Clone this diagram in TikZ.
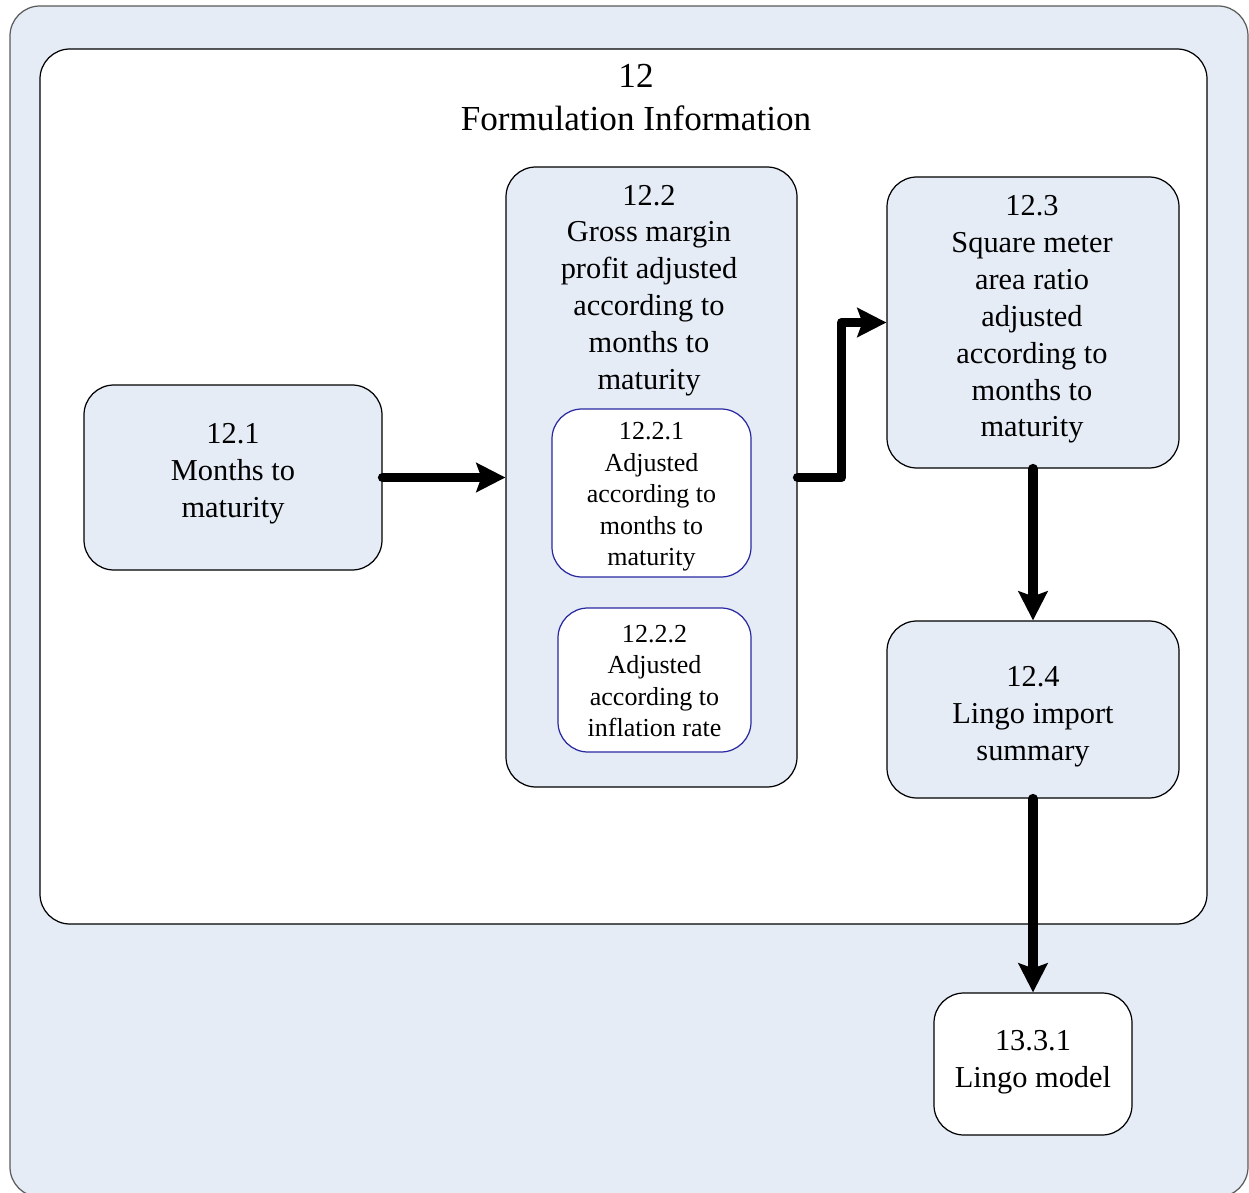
\documentclass[tikz,border=0pt]{standalone}
\usepackage{fontspec}
\setmainfont{Liberation Serif}
\usetikzlibrary{arrows.meta}
\definecolor{panelblue}{RGB}{229,236,246}
\definecolor{subblue}{RGB}{40,40,160}
\definecolor{framegray}{RGB}{90,90,90}
\begin{document}
\begin{tikzpicture}[x=0.02cm,y=-0.02cm,
  bodyfont/.style={font=\fontsize{17.3}{21}\selectfont},
  smallfont/.style={font=\fontsize{14.8}{17.9}\selectfont},
  stagebox/.style={draw=black, fill=panelblue, line width=0.7pt,
    rounded corners=0.6cm, inner sep=0pt},
  subbox/.style={draw=subblue, fill=white, line width=0.7pt,
    rounded corners=0.6cm, inner sep=0pt},
  endbox/.style={stagebox, fill=white},
  flow/.style={line width=5.4pt, line cap=round, line join=round,
    -{Stealth[length=0.58cm,width=0.58cm,inset=0.1cm]}},
  txt/.style={align=center, inner sep=0pt, bodyfont},
  smalltxt/.style={align=center, inner sep=0pt, smallfont}]
\useasboundingbox (0,0) rectangle (1249,1193);
\clip (0,0) rectangle (1249,1193);

% outer panel and the white formulation area
\node[draw=framegray, fill=panelblue, line width=0.7pt, rounded corners=0.6cm,
  minimum width={1238*0.02cm}, minimum height={1191*0.02cm}] (outer) at (629,601.5) {};
\node[draw=black, fill=white, line width=0.7pt, rounded corners=0.6cm,
  minimum width={1167*0.02cm}, minimum height={875*0.02cm}] (area) at (623.5,486.5) {};
\node[align=center, inner sep=0pt, font=\fontsize{20}{24.4}\selectfont] (title) at (636,97.5)
  {12\\Formulation Information};

% stages
\node[stagebox, minimum width={298*0.02cm}, minimum height={185*0.02cm}] (b121) at (233,477.5) {};
\node[txt] (t121) at (233,473.5) {12.1\\Months to\\maturity};

\node[stagebox, minimum width={291*0.02cm}, minimum height={620*0.02cm}] (b122) at (651.5,477) {};
\node[txt] (t122) at (649,290.5)
  {12.2\\Gross margin\\profit adjusted\\according to\\months to\\maturity};
\node[subbox, minimum width={199*0.02cm}, minimum height={168*0.02cm}] (b1221) at (651.5,493) {};
\node[smalltxt] (t1221) at (651.5,497)
  {12.2.1\\Adjusted\\according to\\months to\\maturity};
\node[subbox, minimum width={193*0.02cm}, minimum height={144*0.02cm}] (b1222) at (654.5,680) {};
\node[smalltxt] (t1222) at (654.5,681)
  {12.2.2\\Adjusted\\according to\\inflation rate};

\node[stagebox, minimum width={292*0.02cm}, minimum height={291*0.02cm}] (b123) at (1033,322.5) {};
\node[txt] (t123) at (1032,319.5)
  {12.3\\Square meter\\area ratio\\adjusted\\according to\\months to\\maturity};

\node[stagebox, minimum width={292*0.02cm}, minimum height={177*0.02cm}] (b124) at (1033,709.5) {};
\node[txt] (t124) at (1033,716.5) {12.4\\Lingo import\\summary};

\node[endbox, minimum width={198*0.02cm}, minimum height={142*0.02cm}] (b1331) at (1033,1064) {};
\node[txt] (t1331) at (1033,1062) {13.3.1\\Lingo model};

% connectors
\draw[flow] (b121.east) -- (b121.east -| b122.west);
\draw[flow] (b121.east -| b122.east) -- ++(44,0) |- (b123.west);
\draw[flow] (b123.south) -- (b124.north);
\draw[flow] (b124.south) -- (b1331.north);
\end{tikzpicture}
\end{document}
